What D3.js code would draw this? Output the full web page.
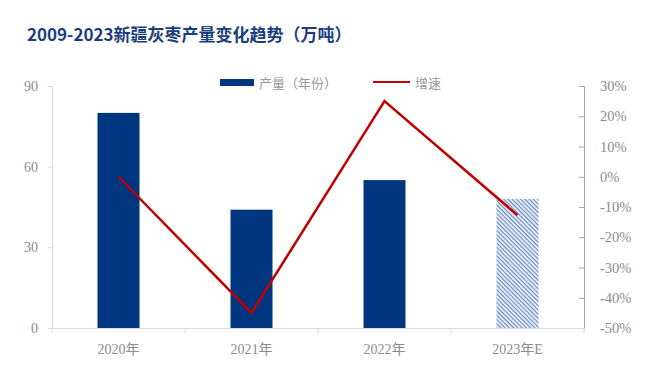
<!DOCTYPE html>
<html>
<head>
<meta charset="utf-8">
<script src="https://cdn.jsdelivr.net/npm/d3@7"></script>
<style>
  body { margin: 0; background: #fff; }
  text { font-family: "Liberation Serif", "Noto Sans CJK SC", serif; }
</style>
</head>
<body>
<script>
var years = ["2020年", "2021年", "2022年", "2023年E"];
var output = [80, 44, 55, 48];
var growth = [0, -45, 25, -12.7];
var leftTicks = [0, 30, 60, 90];
var rightTicks = [30, 20, 10, 0, -10, -20, -30, -40, -50];

var W = 672, H = 375;
var plotL = 52, plotR = 584, plotT = 86, plotB = 328;

var svg = d3.select('body').append('svg')
    .attr('width', W).attr('height', H);

var defs = svg.append('defs');
var pat = defs.append('pattern')
    .attr('id', 'hatch')
    .attr('patternUnits', 'userSpaceOnUse')
    .attr('width', 3).attr('height', 3)
    .attr('patternTransform', 'rotate(45)');
pat.append('rect').attr('width', 3).attr('height', 3).attr('fill', '#fff');
pat.append('rect').attr('width', 3).attr('height', 1.4).attr('fill', '#6a8cc8');

var x = d3.scaleBand().domain(years).range([plotL, plotR]);
var yL = d3.scaleLinear().domain([0, 90]).range([plotB, plotT]);
var yR = d3.scaleLinear().domain([-50, 30]).range([plotB, plotT]);

// title
svg.append('text')
    .attr('x', 27).attr('y', 41)
    .attr('fill', '#1b3d7e')
    .style('font-family', '"Noto Sans CJK SC", sans-serif')
    .style('font-weight', 'bold')
    .style('font-size', '17px')
    .text('2009-2023新疆灰枣产量变化趋势（万吨）');

// legend
svg.append('rect').attr('x', 220).attr('y', 79).attr('width', 34).attr('height', 7).attr('fill', '#003580');
svg.append('text').attr('x', 259).attr('y', 88).attr('fill', '#999')
    .style('font-size', '13px').text('产量（年份）');
svg.append('line').attr('x1', 373).attr('x2', 410).attr('y1', 82).attr('y2', 82)
    .attr('stroke', '#c00000').attr('stroke-width', 2);
svg.append('text').attr('x', 415).attr('y', 88).attr('fill', '#999')
    .style('font-size', '13px').text('增速');

// left axis
var gl = svg.append('g').attr('transform', 'translate(' + plotL + ',0)')
    .call(d3.axisLeft(yL).tickValues(leftTicks).tickSize(4).tickPadding(10));
gl.select('.domain').attr('stroke', '#d9d9d9');
gl.selectAll('.tick line').attr('stroke', '#d9d9d9');
gl.selectAll('.tick text').attr('fill', '#8c8c8c').style('font-size', '14px')
    .style('font-family', '"Liberation Serif", serif');

// right axis (ticks point inward)
var gr = svg.append('g').attr('transform', 'translate(' + plotR + ',0)')
    .call(d3.axisRight(yR).tickValues(rightTicks).tickSize(-5).tickPadding(16)
        .tickFormat(function(d) { return d + '%'; }));
gr.select('.domain').attr('stroke', '#a6a6a6');
gr.selectAll('.tick line').attr('stroke', '#a6a6a6');
gr.selectAll('.tick text').attr('fill', '#8c8c8c').style('font-size', '14.5px')
    .style('font-family', '"Liberation Serif", serif');

// x axis
var gx = svg.append('g').attr('transform', 'translate(0,' + plotB + ')')
    .call(d3.axisBottom(x).tickSize(0).tickPadding(16));
gx.select('.domain').attr('stroke', '#d9d9d9');
gx.selectAll('.tick text').attr('fill', '#8c8c8c').style('font-size', '14px')
    .style('font-family', '"Liberation Serif", "Noto Sans CJK SC", serif');
gx.selectAll('.xt').data(d3.range(years.length + 1)).enter().append('line')
    .attr('x1', function(i) { return plotL + i * x.step(); })
    .attr('x2', function(i) { return plotL + i * x.step(); })
    .attr('y1', 0).attr('y2', 5).attr('stroke', '#d9d9d9');

// bars
var bw = 42;
svg.append('g').selectAll('rect').data(output).enter().append('rect')
    .attr('x', function(d, i) { return x(years[i]) + x.bandwidth() / 2 - bw / 2; })
    .attr('y', function(d) { return yL(d); })
    .attr('width', bw)
    .attr('height', function(d) { return plotB - yL(d); })
    .attr('fill', function(d, i) { return i === 3 ? 'url(#hatch)' : '#003580'; });

// growth line
var line = d3.line()
    .x(function(d, i) { return x(years[i]) + x.bandwidth() / 2; })
    .y(function(d) { return yR(d); });
svg.append('path').datum(growth)
    .attr('d', line)
    .attr('fill', 'none')
    .attr('stroke', '#c00000')
    .attr('stroke-width', 2.5);
</script>
</body>
</html>
